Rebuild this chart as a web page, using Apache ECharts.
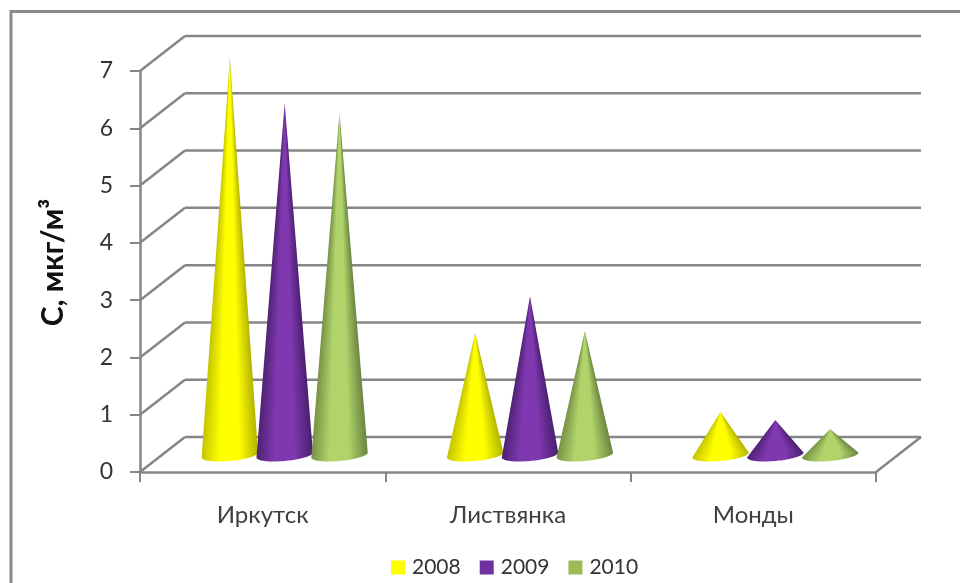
<!DOCTYPE html>
<html>
<head>
<meta charset="utf-8">
<style>html,body{margin:0;padding:0;background:#fff}#chart{width:960px;height:583px}</style>
<script src="https://cdn.jsdelivr.net/npm/echarts@6/dist/echarts.min.js"></script>
</head>
<body>
<div id="chart"></div>
<script>
// Concentration by monitoring site and year
var categories = ['Иркутск', 'Листвянка', 'Монды'];
var values2008 = [6.93, 2.13, 0.75];
var values2009 = [6.14, 2.77, 0.61];
var values2010 = [5.97, 2.16, 0.45];
var years = ['2008', '2009', '2010'];
var wallTicks = [0, 1, 2, 3, 4, 5, 6, 7];

// Oblique projection of the chart box
var DEPTH_X = 45, DEPTH_Y = -35;
var CONE_DX = 22, CONE_DY = -17;
var CONE_SPACING = 0.2235, CONE_RX = 0.115, CONE_RY = 6, CONE_TILT = 2.5;
var LINE = '#868686';

var palettes = [
  { base: '#ffff00', stops: ['#c4c400', '#ffff00', '#ffff00', '#b4b400'] },
  { base: '#7030a0', stops: ['#4e2274', '#8038b0', '#8038b0', '#4a2070'] },
  { base: '#9bbb59', stops: ['#769244', '#b0d46a', '#b0d46a', '#6a8440'] }
];

// Part of a convex outline that lies between two horizontal lines
function sliceBetween(outline, yTop, yBottom) {
  function clip(points, keep, y) {
    var out = [];
    points.forEach(function (p, i) {
      var q = points[(i + 1) % points.length];
      if (keep(p)) out.push(p);
      if (keep(p) !== keep(q)) {
        out.push([p[0] + (q[0] - p[0]) * (y - p[1]) / (q[1] - p[1]), y]);
      }
    });
    return out;
  }
  var upper = clip(outline, function (p) { return p[1] <= yBottom; }, yBottom);
  return upper.length ? clip(upper, function (p) { return p[1] >= yTop; }, yTop) : [];
}

// A cone is built from one-pixel rows, each with its own left-to-right shading,
// so the shading narrows towards the apex the way it does on a round surface
function coneItem(seriesIndex) {
  var stops = palettes[seriesIndex].stops;
  return function (params, api) {
    var cat = api.value(0), val = api.value(1);
    var catW = api.size([1, 0])[0];
    var top = api.coord([cat, val]), foot = api.coord([cat, 0]);
    var cx = top[0] + CONE_DX + (seriesIndex - 1) * CONE_SPACING * catW;
    var apexY = top[1] + CONE_DY, baseY = foot[1] + CONE_DY;
    var rx = CONE_RX * catW;
    var leftY = baseY + CONE_TILT, rightY = baseY - CONE_TILT;

    var outline = [[cx, apexY]];
    for (var j = 0; j <= 48; j++) {
      var a = Math.PI * j / 48;
      outline.push([cx + rx * Math.cos(a), baseY + CONE_RY * Math.sin(a) - CONE_TILT * Math.cos(a)]);
    }

    var children = [];
    var yEnd = Math.ceil(baseY + CONE_RY + 1);
    for (var y = Math.floor(apexY); y < yEnd; y++) {
      var pts = sliceBetween(outline, y, y + 1);
      if (pts.length < 3) continue;
      var mid = Math.max(y + 0.5, apexY);
      var x0 = cx - rx * Math.min(1, (mid - apexY) / (leftY - apexY));
      var x1 = cx + rx * Math.min(1, (mid - apexY) / (rightY - apexY));
      children.push({
        type: 'polygon',
        shape: { points: pts },
        style: {
          stroke: null,
          fill: {
            type: 'linear', global: true, x: x0, y: 0, x2: x1, y2: 0,
            colorStops: [
              { offset: 0, color: stops[0] },
              { offset: 0.32, color: stops[1] },
              { offset: 0.66, color: stops[2] },
              { offset: 1, color: stops[3] }
            ]
          }
        }
      });
    }
    return { type: 'group', children: children };
  };
}

// Back wall gridlines, their side-wall diagonals and the floor edge
function wallItem(params, api) {
  var v = api.value(0), box = params.coordSys;
  var y = api.coord([0, v])[1];
  var x0 = box.x, x1 = box.x + box.width;
  var style = { stroke: LINE, lineWidth: 2.5, fill: null };
  var children = [
    { type: 'line', shape: { x1: x0, y1: y, x2: x0 + DEPTH_X, y2: y + DEPTH_Y }, style: style },
    { type: 'line', shape: { x1: x0 + DEPTH_X, y1: y + DEPTH_Y, x2: x1 + DEPTH_X, y2: y + DEPTH_Y }, style: style }
  ];
  if (v === 0) {
    children.push({ type: 'line', shape: { x1: x1, y1: y, x2: x1 + DEPTH_X, y2: y + DEPTH_Y }, style: style });
  }
  return { type: 'group', children: children };
}

function coneSeries(name, values, idx) {
  return {
    name: name,
    type: 'custom',
    z: 5 + idx,
    renderItem: coneItem(idx),
    itemStyle: { color: palettes[idx].base },
    encode: { x: 0, y: 1 },
    data: values.map(function (v, i) { return [i, v]; })
  };
}

var chart = echarts.init(document.getElementById('chart'), null, { renderer: 'canvas' });
var FONT = 'Lato';
chart.setOption({
  animation: false,
  backgroundColor: '#ffffff',
  textStyle: { fontFamily: FONT },
  grid: { left: 140, top: 71, width: 736, height: 401 },
  xAxis: {
    type: 'category',
    data: categories,
    boundaryGap: true,
    axisLine: { show: true, lineStyle: { color: LINE, width: 2.5 } },
    axisTick: { show: true, alignWithLabel: false, length: 10, lineStyle: { color: LINE, width: 2 } },
    axisLabel: { color: '#404040', fontSize: 24, fontFamily: FONT, margin: 31 },
    splitLine: { show: false }
  },
  yAxis: {
    type: 'value',
    min: 0, max: 7, interval: 1,
    name: 'С, мкг/м³',
    nameLocation: 'middle',
    nameRotate: 90,
    nameGap: 72,
    nameTextStyle: { color: '#111111', fontSize: 30, fontWeight: 'bold', fontFamily: FONT, padding: [0, 0, 0, 18] },
    axisLine: { show: true, lineStyle: { color: LINE, width: 2.5 } },
    axisTick: { show: true, length: 10, lineStyle: { color: LINE, width: 2 } },
    axisLabel: { color: '#333333', fontSize: 23, fontFamily: FONT, margin: 27, padding: [3, 0, 0, 0] },
    splitLine: { show: false }
  },
  legend: {
    data: years,
    left: 386, top: 552,
    icon: 'rect',
    itemWidth: 14, itemHeight: 14, itemGap: 19,
    textStyle: { color: '#333333', fontSize: 21, fontFamily: FONT, padding: [0, 0, 0, 2] }
  },
  graphic: [
    { type: 'polyline', silent: true, shape: { points: [[11, 583], [11, 11.5], [960, 11.5]] },
      style: { stroke: '#8a8a8a', lineWidth: 3, fill: null } }
  ],
  series: [
    { type: 'custom', silent: true, z: 1, renderItem: wallItem, encode: { y: 0 },
      data: wallTicks.map(function (v) { return [v]; }), legendHoverLink: false },
    coneSeries(years[0], values2008, 0),
    coneSeries(years[1], values2009, 1),
    coneSeries(years[2], values2010, 2)
  ]
});
</script>
</body>
</html>
